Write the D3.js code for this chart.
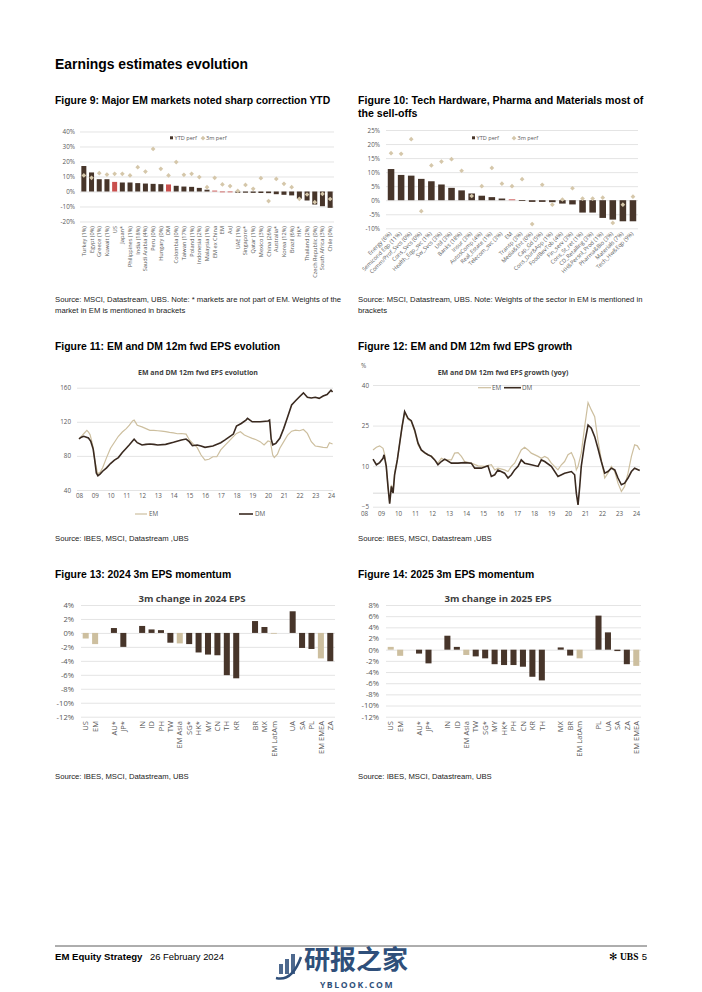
<!DOCTYPE html>
<html><head><meta charset="utf-8">
<script src="https://cdn.jsdelivr.net/npm/d3@7"></script>
<style>
body{margin:0;background:#fff}
svg{display:block}
text{font-family:"Open Sans","Noto Sans",sans-serif}
.hd{font-family:"Liberation Sans",Arial,sans-serif}
</style></head><body>
<svg id="page" width="702" height="992"></svg>
<script>
// ---------------- DATA ----------------
const fig9Categories = ["Turkey (1%)","Egypt (0%)","Greece (1%)","Kuwait (1%)","US","Japan*","Philippines (1%)","India (18%)","Saudi Arabia (4%)","Peru (0%)","Hungary (0%)","DM","Colombia (0%)","Taiwan (17%)","Poland (1%)","Indonesia (2%)","Malaysia (1%)","EM ex China","EM","AxJ","UAE (1%)","Singapore*","Qatar (1%)","Mexico (3%)","China (26%)","Australia*","Korea (12%)","Brazil (6%)","HK*","Thailand (2%)","Czech Republic (0%)","South Africa (3%)","Chile (0%)"];
const fig9Ytd = [17.0,12.7,8.2,8.2,6.4,6.0,6.0,5.6,5.3,5.1,4.9,4.7,3.8,3.3,3.1,2.4,1.2,0.6,-0.3,-0.4,-0.8,-0.8,-0.9,-1.0,-1.1,-1.8,-2.2,-2.6,-4.9,-6.0,-8.7,-9.8,-10.9];
const fig9ThreeM = [10.7,9.1,12.2,11.3,11.8,11.8,10.7,16.2,13.3,28.4,15.1,10.7,19.6,11.1,11.8,9.6,2.9,9.1,4.7,3.6,0.4,4.4,1.8,8.9,-6.4,8.4,5.1,2.9,-4.9,-2.0,-7.1,-1.6,-5.0];
const fig9Red = ["US","DM","EM ex China","EM","AxJ"];
const fig9Ticks = [-20,-10,0,10,20,30,40];

const fig10Categories = ["Energy (6%)","Semicond Eqp (11%)","Comm/Prof_Svcs (0%)","Cons_Svcs (0%)","Health_Eqp_svc (1%)","Sw_Svcs (3%)","Util (3%)","Banks (18%)","Insur (3%)","AutosComp (4%)","Real_Estate (1%)","Telecom_svc (3%)","EM","Transp (3%)","Media&Ent (0%)","Cap_Gd (5%)","Cons_Dur&App (1%)","FoodBevTob (4%)","Fin_serv (3%)","Cons_St_ret (1%)","CD_Retailing (3%)","HH&Persnl_Prod (1%)","Pharma&Bio (3%)","Materials (7%)","Tech_Hw&Eqp (9%)"];
const fig10Ytd = [11.1,9.0,8.75,7.6,6.75,5.6,4.4,3.5,2.4,1.6,1.1,0.6,0.3,0.05,-0.6,-0.6,-0.7,-1.2,-1.5,-4.4,-4.4,-6.3,-6.9,-7.5,-7.5];
const fig10ThreeM = [16.75,16.5,21.75,-3.9,12.4,13.75,14.6,10.5,1.5,5.0,11.5,5.9,5.0,7.5,-8.5,5.5,-1.6,0.25,4.25,0.6,0.6,0.9,-8.1,-1.6,1.25];
const fig10Red = ["EM"];
const fig10Ticks = [-10,-5,0,5,10,15,20,25];

// Figure 11: 12m fwd EPS level, [year, value]
const fig11EM = [[2008.0,100],[2008.15,103],[2008.3,106],[2008.5,110],[2008.6,108],[2008.7,105],[2008.8,98],[2008.9,90],[2009.0,75],[2009.15,62],[2009.2,59],[2009.35,61],[2009.5,66],[2009.75,78],[2010.0,89],[2010.25,96],[2010.5,103],[2010.75,108],[2011.0,112],[2011.2,116],[2011.4,121],[2011.5,122],[2011.6,119],[2011.7,116],[2012.0,114],[2012.25,112],[2012.5,110],[2012.75,110],[2013.0,109.5],[2013.25,109],[2013.5,108.4],[2013.75,107.5],[2014.0,107],[2014.25,106],[2014.5,106.3],[2014.8,105.5],[2015.0,99],[2015.25,94],[2015.5,90],[2015.75,81],[2016.0,75],[2016.25,76],[2016.5,79],[2016.75,79],[2017.0,87],[2017.25,92],[2017.5,96.7],[2017.75,101.7],[2018.0,106.4],[2018.25,108.4],[2018.5,104.5],[2018.75,102.5],[2019.0,100.6],[2019.25,99],[2019.5,96.7],[2019.75,92.8],[2020.0,97.5],[2020.15,96.7],[2020.3,81],[2020.4,78],[2020.6,82],[2020.75,89],[2021.0,96.7],[2021.25,104.5],[2021.5,109],[2021.75,110.3],[2022.0,109.5],[2022.25,111],[2022.5,106.4],[2022.75,96.7],[2023.0,91.6],[2023.25,90.8],[2023.5,90],[2023.75,89.6],[2023.9,95.5],[2024.1,94]];
const fig11DM = [[2008.0,100],[2008.15,102],[2008.3,103],[2008.6,101],[2008.75,97],[2008.9,88],[2009.0,75],[2009.1,60],[2009.2,56.8],[2009.35,59],[2009.5,62],[2009.75,66],[2010.0,71],[2010.25,75],[2010.5,78],[2010.75,84],[2011.0,89],[2011.2,93],[2011.4,97.5],[2011.5,99.5],[2011.7,95.5],[2012.0,92.8],[2012.25,93.5],[2012.5,94],[2012.75,93.5],[2013.0,92.8],[2013.5,93.5],[2014.0,95.9],[2014.5,98.6],[2014.8,99.8],[2015.0,96.7],[2015.2,92],[2015.5,92.8],[2015.75,91.5],[2016.0,90],[2016.5,91.6],[2017.0,95.5],[2017.25,98.5],[2017.5,101.7],[2017.8,105.6],[2018.0,115],[2018.3,118],[2018.6,122],[2018.7,124],[2019.0,120],[2019.5,120],[2020.0,121],[2020.1,122],[2020.2,100],[2020.3,93],[2020.5,94.7],[2020.75,100.6],[2021.0,112.3],[2021.25,126],[2021.5,139.7],[2021.75,144.7],[2022.0,149.4],[2022.25,154],[2022.5,148.7],[2022.75,147.9],[2023.0,148.7],[2023.25,147.5],[2023.5,150.2],[2023.75,152],[2024.0,157],[2024.1,155]];
const fig11YTicks = [40,80,120,160];
const yearTickLabels = ["08","09","10","11","12","13","14","15","16","17","18","19","20","21","22","23","24"];

// Figure 12: 12m fwd EPS growth yoy, [year, value]
const fig12EM = [[2008.53,16],[2008.73,17],[2008.92,17.5],[2009.12,16.6],[2009.22,14.2],[2009.31,9.9],[2009.41,2.5],[2009.51,-3.4],[2009.61,3.1],[2009.71,0.6],[2009.80,7.4],[2009.96,12.3],[2010.10,18.5],[2010.24,24.6],[2010.39,29.8],[2010.59,27.3],[2010.78,26.5],[2010.98,22.8],[2011.18,17.9],[2011.37,15.8],[2011.57,14.8],[2011.76,14.2],[2011.96,13.8],[2012.16,12.3],[2012.35,11.1],[2012.55,12.9],[2012.75,12.3],[2013.14,12.3],[2013.33,14.8],[2013.53,15],[2013.73,13.6],[2013.92,11.7],[2014.31,11.1],[2014.71,10.1],[2015.10,9.9],[2015.49,10.5],[2015.69,8.6],[2015.88,9.25],[2016.27,8.6],[2016.47,8],[2016.67,9.9],[2016.86,11.1],[2017.06,13.6],[2017.25,16],[2017.45,17],[2017.65,16],[2017.84,14.8],[2018.24,13.6],[2018.43,12.9],[2018.63,13.6],[2018.82,12.9],[2019.02,11.1],[2019.41,8.6],[2019.61,10.5],[2019.80,11.7],[2020.0,14.2],[2020.20,15],[2020.39,12.3],[2020.49,8.6],[2020.59,9.9],[2020.78,14.8],[2020.98,24.6],[2021.18,33.5],[2021.37,30.8],[2021.57,28.3],[2021.76,19.7],[2021.96,12.3],[2022.16,5.6],[2022.35,7.4],[2022.55,9.9],[2022.75,8],[2022.94,3.7],[2023.14,0.6],[2023.33,2.5],[2023.53,7.4],[2023.73,13.6],[2023.92,17.9],[2024.08,17.5],[2024.22,16]];
const fig12DM = [[2008.53,12.6],[2008.73,10.5],[2008.92,11.3],[2009.12,12.9],[2009.18,14.2],[2009.31,9.9],[2009.41,2.5],[2009.51,-3.9],[2009.61,2.5],[2009.71,0],[2009.80,6.8],[2009.96,12.3],[2010.10,18.5],[2010.24,24.6],[2010.39,30.2],[2010.59,27.7],[2010.78,26.8],[2010.98,23.4],[2011.18,18.5],[2011.37,16],[2011.57,15],[2011.76,14.2],[2011.96,13.6],[2012.16,12.3],[2012.35,10.5],[2012.55,11.7],[2012.75,12.6],[2013.14,11.1],[2013.53,11.1],[2013.92,11.3],[2014.31,11.1],[2014.51,9.25],[2014.90,9.25],[2015.29,10.1],[2015.49,6.2],[2015.69,6.8],[2015.88,8.6],[2016.27,7.4],[2016.47,5.6],[2016.67,6.8],[2016.86,8.6],[2017.06,9.9],[2017.25,12.3],[2017.45,11.1],[2017.84,10.5],[2018.24,9.9],[2018.43,12.3],[2018.63,11.7],[2019.02,9.9],[2019.41,6.2],[2019.80,7.4],[2020.20,8.0],[2020.39,6.8],[2020.49,0],[2020.59,-4.3],[2020.69,2.5],[2020.78,9.9],[2020.98,18.5],[2021.18,25.2],[2021.37,24],[2021.57,20.9],[2021.76,16.6],[2021.96,11.7],[2022.16,7.4],[2022.35,8],[2022.55,9.25],[2022.75,8.6],[2022.94,5.6],[2023.14,3.1],[2023.33,3.7],[2023.53,5.6],[2023.73,8],[2023.92,9.25],[2024.22,8.4]];
const fig12YTicks = [-5,10,25,40];

// Figures 13/14: 3m change in EPS (%), blank strings are spacer slots
const fig13Categories = ["US","EM","","AU*","JP*","","IN","ID","PH","TW","EM Asia","SG*","HK*","MY","CN","TH","KR","","BR","MX","EM LatAm","","UA","SA","PL","EM EMEA","ZA"];
const fig13Values = [-0.8,-1.6,null,0.7,-2.0,null,1.0,0.5,0.4,-1.4,-1.5,-1.6,-2.8,-3.1,-3.2,-6.05,-6.5,null,1.7,0.85,-0.1,null,3.1,-2.15,-2.3,-3.65,-4.05];
const fig13Ticks = [-12,-10,-8,-6,-4,-2,0,2,4];
const fig14Categories = ["US","EM","","AU*","JP*","","IN","ID","EM Asia","TW","SG*","MY","HK*","PH","CN","KR","TH","","MX","BR","EM LatAm","","PL","UA","SA","ZA","EM EMEA"];
const fig14Values = [0.5,-1.1,null,-0.7,-2.45,null,2.5,0.5,-0.95,-1.2,-1.55,-2.6,-2.75,-2.75,-3.05,-4.85,-5.5,null,0.4,-1.05,-1.55,null,6.1,3.1,-0.25,-2.6,-2.9];
const fig14Ticks = [-12,-10,-8,-6,-4,-2,0,2,4,6,8];
const aggregateMarkets = ["US","EM","EM Asia","EM LatAm","EM EMEA"];

// ---------------- STYLE ----------------
const DARK="#47352a", TAN="#cdbf9f", RED="#c9504e", DIAM="#d5c7aa", GRID="#d9d9d9", LBL="#595959", WM="#2f4f7a";
const svg = d3.select("#page");

function text(x,y,s,o={}){
  return svg.append("text").attr("x",x).attr("y",y).text(s)
    .attr("class",o.cls||null)
    .style("font-size",(o.size||8)+"px").style("font-weight",o.bold?"bold":"normal")
    .style("fill",o.fill||"#000").style("text-anchor",o.anchor||"start");
}
function styleAxis(g,fs){
  g.select(".domain").remove();
  g.selectAll(".tick line").attr("stroke",GRID).attr("stroke-width",0.7);
  g.selectAll(".tick text").style("font-size",fs+"px").style("fill",LBL).style("font-family","'Open Sans','Noto Sans',sans-serif");
}

// ---------------- PAGE TEXT ----------------
const FT=10.4, SR=7.7;
text(55,69,"Earnings estimates evolution",{size:13.9,bold:true,cls:"hd"});
text(55,104,"Figure 9: Major EM markets noted sharp correction YTD",{size:FT,bold:true,cls:"hd"});
text(358,104,"Figure 10: Tech Hardware, Pharma and Materials most of",{size:10.6,bold:true,cls:"hd"});
text(358,117,"the sell-offs",{size:10.6,bold:true,cls:"hd"});
text(55,302,"Source: MSCI, Datastream, UBS. Note: * markets are not part of EM. Weights of the",{size:SR,fill:"#222",cls:"hd"});
text(55,313,"market in EM is mentioned in brackets",{size:SR,fill:"#222",cls:"hd"});
text(358,302,"Source: MSCI, Datastream, UBS. Note: Weights of the sector in EM is mentioned in",{size:SR,fill:"#222",cls:"hd"});
text(358,313,"brackets",{size:SR,fill:"#222",cls:"hd"});
text(55,350,"Figure 11: EM and DM 12m fwd EPS evolution",{size:FT,bold:true,cls:"hd"});
text(358,350,"Figure 12: EM and DM 12m fwd EPS growth",{size:FT,bold:true,cls:"hd"});
text(55,541,"Source: IBES, MSCI, Datastream ,UBS",{size:SR,fill:"#222",cls:"hd"});
text(358,541,"Source: IBES, MSCI, Datastream ,UBS",{size:SR,fill:"#222",cls:"hd"});
text(55,578,"Figure 13: 2024 3m EPS momentum",{size:FT,bold:true,cls:"hd"});
text(358,578,"Figure 14: 2025 3m EPS momentum",{size:FT,bold:true,cls:"hd"});
text(55,779,"Source: IBES, MSCI, Datastream, UBS",{size:SR,fill:"#222",cls:"hd"});
text(358,779,"Source: IBES, MSCI, Datastream, UBS",{size:SR,fill:"#222",cls:"hd"});

// footer
svg.append("line").attr("x1",55).attr("x2",647).attr("y1",946).attr("y2",946).attr("stroke","#333").attr("stroke-width",0.8);
text(55,960,"EM Equity Strategy",{size:9.6,bold:true,cls:"hd"});
text(150,960,"26 February 2024",{size:9.4,cls:"hd"});
text(620,960,"UBS",{size:9.5,bold:true}).style("font-family","'Liberation Serif',serif");
text(647,960,"5",{size:9.5,anchor:"end",cls:"hd"});
text(613,960,"✻",{size:10,anchor:"middle",fill:"#000"});
// watermark
[[279,964,4,10],[285,959,4,15],[291,954,4,20]].forEach(b=>svg.append("rect").attr("x",b[0]).attr("y",b[1]).attr("width",b[2]).attr("height",b[3]).attr("fill",WM).attr("opacity",0.85));
svg.append("path").attr("d","M276,978 Q292,982 301,957").attr("fill","none").attr("stroke",WM).attr("stroke-width",2.5);
text(304,969,"研报之家",{size:26,bold:true,fill:WM}).style("font-family","'Noto Sans CJK SC',sans-serif");
text(357,988,"YBLOOK.COM",{size:8.6,fill:WM,bold:true,anchor:"middle"}).style("letter-spacing","1.6px");

// ---------------- FIGURE 9 ----------------
function diamond(){ return d3.symbol().type(d3.symbolSquare).size(11)(); }
{
  const x = d3.scaleBand().domain(d3.range(fig9Categories.length)).range([80,334]).paddingInner(0.35).paddingOuter(0.175);
  const y = d3.scaleLinear().domain([-20,40]).range([221.5,131.5]);
  const ga = svg.append("g").attr("transform","translate(80,0)")
    .call(d3.axisLeft(y).tickValues(fig9Ticks).tickSize(-254).tickPadding(5).tickFormat(d=>d+"%"));
  styleAxis(ga,6.3);
  svg.append("rect").attr("x",168).attr("y",133).attr("width",64).attr("height",10).attr("fill","#fff");
  svg.append("rect").attr("x",170).attr("y",136.3).attr("width",3).attr("height",3).attr("fill",DARK);
  text(174.5,140,"YTD perf",{size:5.6,fill:LBL});
  svg.append("path").attr("d",diamond()).attr("transform","translate(203,138.2) rotate(45)").attr("fill",DIAM);
  text(206,140,"3m perf",{size:5.6,fill:LBL});
  svg.append("g").selectAll("rect").data(fig9Ytd).join("rect")
    .attr("x",(d,i)=>x(i)).attr("width",x.bandwidth())
    .attr("y",d=>y(Math.max(0,d))).attr("height",d=>Math.max(0.8,Math.abs(y(d)-y(0))))
    .attr("fill",(d,i)=>fig9Red.includes(fig9Categories[i])?RED:DARK);
  svg.append("g").selectAll("path").data(fig9ThreeM).join("path")
    .attr("d",diamond()).attr("fill",DIAM)
    .attr("transform",(d,i)=>`translate(${x(i)+x.bandwidth()/2},${y(d)}) rotate(45)`);
  const gx = svg.append("g").attr("transform","translate(0,224)")
    .call(d3.axisBottom(x).tickSize(0).tickFormat(i=>fig9Categories[i]));
  gx.select(".domain").remove();
  gx.selectAll("text").attr("y",0).attr("x",-2).attr("dy","0.35em").attr("transform","rotate(-90)")
    .style("text-anchor","end").style("font-size","5.6px").style("fill",LBL).style("font-family","'Open Sans',sans-serif");
}

// ---------------- FIGURE 10 ----------------
{
  const x = d3.scaleBand().domain(d3.range(fig10Categories.length)).range([386,638]).paddingInner(0.35).paddingOuter(0.175);
  const y = d3.scaleLinear().domain([-10,25]).range([228.3,130]);
  const ga = svg.append("g").attr("transform","translate(386,0)")
    .call(d3.axisLeft(y).tickValues(fig10Ticks).tickSize(-252).tickPadding(6).tickFormat(d=>d+"%"));
  styleAxis(ga,6.3);
  svg.append("rect").attr("x",468).attr("y",133).attr("width",70).attr("height",10).attr("fill","#fff");
  svg.append("rect").attr("x",472).attr("y",136.3).attr("width",3).attr("height",3).attr("fill",DARK);
  text(476.5,140,"YTD perf",{size:5.6,fill:LBL});
  svg.append("path").attr("d",diamond()).attr("transform","translate(514,138.2) rotate(45)").attr("fill",DIAM);
  text(517.5,140,"3m perf",{size:5.6,fill:LBL});
  svg.append("g").selectAll("rect").data(fig10Ytd).join("rect")
    .attr("x",(d,i)=>x(i)).attr("width",x.bandwidth())
    .attr("y",d=>y(Math.max(0,d))).attr("height",d=>Math.max(0.8,Math.abs(y(d)-y(0))))
    .attr("fill",(d,i)=>fig10Red.includes(fig10Categories[i])?RED:DARK);
  svg.append("g").selectAll("path").data(fig10ThreeM).join("path")
    .attr("d",diamond()).attr("fill",DIAM)
    .attr("transform",(d,i)=>`translate(${x(i)+x.bandwidth()/2},${y(d)}) rotate(45)`);
  const gx = svg.append("g").attr("transform","translate(0,232)")
    .call(d3.axisBottom(x).tickSize(0).tickFormat(i=>fig10Categories[i]));
  gx.select(".domain").remove();
  gx.selectAll("text").attr("y",0).attr("x",-1).attr("dy","0.35em").attr("transform","rotate(-45)")
    .style("text-anchor","end").style("font-size","5.6px").style("fill",LBL).style("font-family","'Open Sans',sans-serif");
}

// ---------------- FIGURE 11 ----------------
{
  const x = d3.scaleLinear().domain([2008,2024]).range([79,331]);
  const y = d3.scaleLinear().domain([40,160]).range([490,387.7]);
  text(198,375,"EM and DM 12m fwd EPS evolution",{size:7,bold:true,fill:"#404040",anchor:"middle"});
  const ga = svg.append("g").attr("transform","translate(77,0)")
    .call(d3.axisLeft(y).tickValues(fig11YTicks).tickSize(-256).tickPadding(6));
  styleAxis(ga,6.3);
  const gx = svg.append("g").attr("transform","translate(0,493)")
    .call(d3.axisBottom(x).tickValues(d3.range(2008,2025)).tickSize(0).tickPadding(1).tickFormat((d,i)=>yearTickLabels[i]));
  styleAxis(gx,6.3);
  const line = d3.line().x(d=>x(d[0])).y(d=>y(d[1]));
  svg.append("path").datum(fig11EM).attr("d",line).attr("fill","none").attr("stroke",TAN).attr("stroke-width",1.2);
  svg.append("path").datum(fig11DM).attr("d",line).attr("fill","none").attr("stroke","#3a2a20").attr("stroke-width",1.6);
  svg.append("line").attr("x1",135).attr("x2",147).attr("y1",514).attr("y2",514).attr("stroke",TAN).attr("stroke-width",1.2);
  text(149,516.3,"EM",{size:6.3,fill:LBL});
  svg.append("line").attr("x1",239).attr("x2",253).attr("y1",514).attr("y2",514).attr("stroke","#3a2a20").attr("stroke-width",1.6);
  text(255,516.3,"DM",{size:6.3,fill:LBL});
}

// ---------------- FIGURE 12 ----------------
{
  const x = d3.scaleLinear().domain([2008,2024]).range([364,636]);
  const y = d3.scaleLinear().domain([-5,40]).range([506.7,385]);
  text(503,375,"EM and DM 12m fwd EPS growth (yoy)",{size:7,bold:true,fill:"#404040",anchor:"middle"});
  text(361,368,"%",{size:6.3,fill:LBL});
  const ga = svg.append("g").attr("transform","translate(373,0)")
    .call(d3.axisLeft(y).tickValues(fig12YTicks).tickSize(-267).tickPadding(4));
  styleAxis(ga,6.3);
  svg.append("line").attr("x1",373).attr("x2",640).attr("y1",y(0)).attr("y2",y(0)).attr("stroke","#c8c8c8").attr("stroke-width",0.7);
  const gx = svg.append("g").attr("transform","translate(0,511)")
    .call(d3.axisBottom(x).tickValues(d3.range(2008,2025)).tickSize(0).tickPadding(1).tickFormat((d,i)=>yearTickLabels[i]));
  styleAxis(gx,6.3);
  const line = d3.line().x(d=>x(d[0])).y(d=>y(d[1]));
  svg.append("path").datum(fig12EM).attr("d",line).attr("fill","none").attr("stroke",TAN).attr("stroke-width",1.2);
  svg.append("path").datum(fig12DM).attr("d",line).attr("fill","none").attr("stroke","#3a2a20").attr("stroke-width",1.6);
  svg.append("line").attr("x1",478).attr("x2",491).attr("y1",387.7).attr("y2",387.7).attr("stroke",TAN).attr("stroke-width",1.2);
  text(492,390,"EM",{size:6.3,fill:LBL});
  svg.append("line").attr("x1",504).attr("x2",521).attr("y1",387.7).attr("y2",387.7).attr("stroke","#3a2a20").attr("stroke-width",1.6);
  text(522,390,"DM",{size:6.3,fill:LBL});
}

// ---------------- FIGURES 13 / 14 ----------------
function momentum(cats, vals, ticks, x0, x1, yTop, title, titleX){
  const x = d3.scaleBand().domain(d3.range(cats.length)).range([x0,x1]).paddingInner(0.36).paddingOuter(0.18);
  const y = d3.scaleLinear().domain([-12,ticks[ticks.length-1]]).range([716.7,yTop]);
  text(titleX,601.5,title,{size:9.6,bold:true,fill:"#404040",anchor:"middle"});
  const ga = svg.append("g").attr("transform",`translate(${x0},0)`)
    .call(d3.axisLeft(y).tickValues(ticks).tickSize(-(x1-x0)).tickPadding(7).tickFormat(d=>d+"%"));
  styleAxis(ga,7.6);
  const data = vals.map((v,i)=>({v,i})).filter(d=>d.v!==null);
  svg.append("g").selectAll("rect").data(data).join("rect")
    .attr("x",d=>x(d.i)).attr("width",x.bandwidth())
    .attr("y",d=>y(Math.max(0,d.v))).attr("height",d=>Math.max(0.8,Math.abs(y(d.v)-y(0))))
    .attr("fill",d=>aggregateMarkets.includes(cats[d.i])?TAN:DARK);
  const gx = svg.append("g").attr("transform","translate(0,719)")
    .call(d3.axisBottom(x).tickSize(0).tickFormat(i=>cats[i]));
  gx.select(".domain").remove();
  gx.selectAll("text").attr("y",0).attr("x",-2).attr("dy","0.35em").attr("transform","rotate(-90)")
    .style("text-anchor","end").style("font-size","7.6px").style("fill",LBL).style("font-family","'Open Sans',sans-serif");
}
momentum(fig13Categories, fig13Values, fig13Ticks, 81, 335, 605, "3m change in 2024 EPS", 192);
momentum(fig14Categories, fig14Values, fig14Ticks, 386, 641, 605, "3m change in 2025 EPS", 498);
</script>
</body></html>
